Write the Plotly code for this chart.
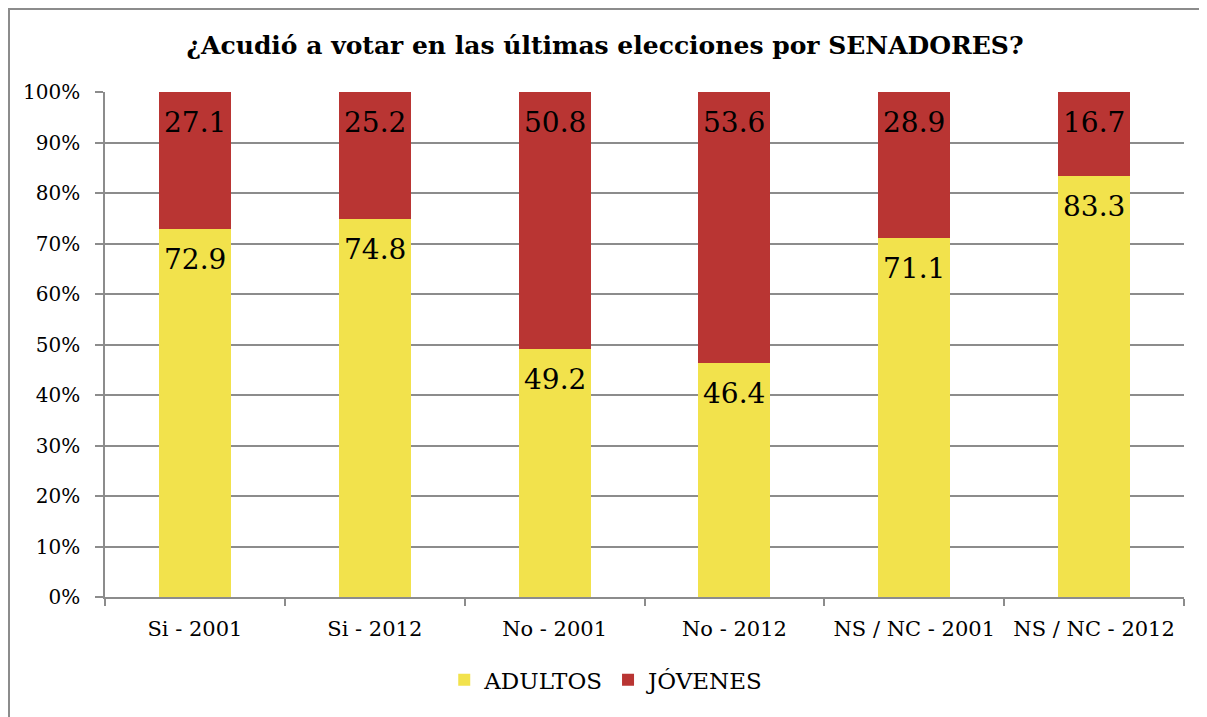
import plotly.graph_objects as go

categories = ["Si - 2001", "Si - 2012", "No - 2001", "No - 2012", "NS / NC - 2001", "NS / NC - 2012"]
adultos = [72.9, 74.8, 49.2, 46.4, 71.1, 83.3]
jovenes = [27.1, 25.2, 50.8, 53.6, 28.9, 16.7]
y_ticks = [0, 10, 20, 30, 40, 50, 60, 70, 80, 90, 100]
y_ticktext = [f"{v}%" for v in y_ticks]

FONT = "DejaVu Serif"
GRAY = "#8c8c8c"

fig = go.Figure()
fig.add_trace(go.Bar(
    name="ADULTOS", x=categories, y=adultos,
    marker=dict(color="#F2E24C", line=dict(width=0)),
))
fig.add_trace(go.Bar(
    name="JÓVENES", x=categories, y=jovenes,
    marker=dict(color="#B93533", line=dict(width=0)),
))

annotations = []
for cat, a, j in zip(categories, adultos, jovenes):
    for top, val in ((a, a), (a + j, j)):
        annotations.append(dict(
            x=cat, y=top, xref="x", yref="y", text=f"{val:.1f}",
            showarrow=False, yanchor="top", yshift=-12,
            font=dict(family=FONT, size=28, color="black")))

fig.update_layout(
    barmode="stack",
    bargap=0.6,
    width=1207, height=717,
    margin=dict(l=97, r=31, t=84, b=128),
    paper_bgcolor="white", plot_bgcolor="white",
    font=dict(family=FONT, size=20, color="black"),
    title=dict(text="<b>¿Acudió a votar en las últimas elecciones por SENADORES?</b>",
               x=597 / 1207, xref="container", xanchor="center",
               y=1 - 37 / 717, yref="container", yanchor="middle",
               font=dict(family=FONT, size=25, color="black")),
    legend=dict(orientation="h", x=0.465, xanchor="center", y=-0.164, yanchor="middle",
                font=dict(family=FONT, size=23, color="black"),
                itemsizing="constant", traceorder="normal", itemwidth=30),
    xaxis=dict(showline=True, linecolor=GRAY, linewidth=1.5,
               ticks="outside", tickson="boundaries", ticklen=7, tickcolor=GRAY, tickwidth=1.5,
               ticklabelstandoff=12,
               tickfont=dict(family=FONT, size=21, color="black"), showgrid=False),
    yaxis=dict(range=[0, 100], tickmode="array", tickvals=y_ticks, ticktext=y_ticktext,
               showline=True, linecolor=GRAY, linewidth=1.5,
               ticks="outside", ticklen=8, tickcolor=GRAY, tickwidth=1.5,
               ticklabelstandoff=11,
               showgrid=True, gridcolor=GRAY, gridwidth=1.5, zeroline=False,
               tickfont=dict(family=FONT, size=20, color="black")),
    annotations=annotations,
    shapes=[dict(type="rect", xref="paper", yref="paper",
                 x0=-96 / 1079, x1=1.2, y0=-0.4, y1=1 + 83 / 505,
                 line=dict(color=GRAY, width=2), layer="below")],
)

fig.write_html("out.html")
